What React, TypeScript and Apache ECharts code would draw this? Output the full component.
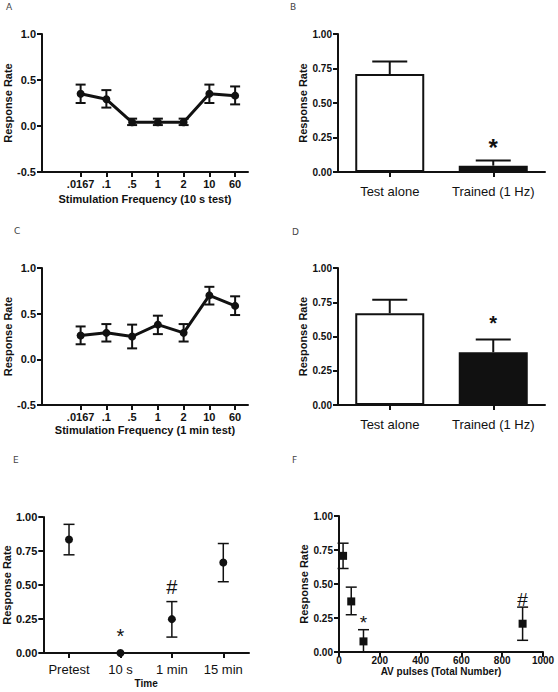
import React, { useEffect, useRef } from 'react';
import * as echarts from 'echarts';

// Panel A / C: stimulation frequency
const freqLabels = ['.0167', '.1', '.5', '1', '2', '10', '60'];
const freqPos = [1, 2, 3, 4, 5, 6, 7];
const aMean = [0.35, 0.29, 0.04, 0.04, 0.04, 0.35, 0.33];
const aLow = [0.25, 0.2, 0.01, 0.01, 0.01, 0.25, 0.235];
const aHigh = [0.45, 0.39, 0.08, 0.08, 0.08, 0.45, 0.43];
const cMean = [0.26, 0.29, 0.25, 0.38, 0.29, 0.7, 0.585];
const cLow = [0.165, 0.195, 0.12, 0.276, 0.195, 0.6, 0.485];
const cHigh = [0.36, 0.386, 0.38, 0.478, 0.386, 0.794, 0.69];

// Panel B / D: bars
const barCats = ['Test alone', 'Trained (1 Hz)'];
const bMean = [0.71, 0.046];
const bErr = [0.8, 0.083];
const dMean = [0.67, 0.385];
const dErr = [0.768, 0.478];

// Panel E: time
const timeCats = ['Pretest', '10 s', '1 min', '15 min'];
const eMean = [0.834, 0.0, 0.249, 0.666];
const eLow = [0.722, 0.0, 0.117, 0.524];
const eHigh = [0.946, 0.0, 0.378, 0.805];

// Panel F: AV pulses
const pulses = [20, 60, 120, 900];
const fMean = [0.707, 0.372, 0.078, 0.208];
const fLow = [0.614, 0.274, 0.0, 0.086];
const fHigh = [0.8, 0.477, 0.164, 0.33];

// Significance marks
const bMarkText = ['*'];
const bMarkX = [1];
const bMarkY = [0.18];
const dMarkText = ['*'];
const dMarkX = [1];
const dMarkY = [0.6];
const eMarkText = ['*', '#'];
const eMarkX = [1, 2];
const eMarkY = [0.125, 0.488];
const fMarkText = ['*', '#'];
const fMarkX = [120, 900];
const fMarkY = [0.215, 0.389];

const panelLetters = ['A', 'B', 'C', 'D', 'E', 'F'];

const FONT = "'Liberation Sans', Arial, sans-serif";
const INK = '#111111';

function errItem(capHalf: number, lw: number, lowCap: boolean) {
  return (params: any, api: any) => {
    const x = api.value(0);
    const lo = api.value(1);
    const hi = api.value(2);
    if (hi === lo) return null;
    const top = api.coord([x, hi]);
    const bot = api.coord([x, lo]);
    const style = { stroke: INK, lineWidth: lw };
    const children: any[] = [
      { type: 'line', shape: { x1: top[0], y1: top[1], x2: bot[0], y2: bot[1] }, style },
      { type: 'line', shape: { x1: top[0] - capHalf, y1: top[1], x2: top[0] + capHalf, y2: top[1] }, style },
    ];
    if (lowCap) {
      children.push({ type: 'line', shape: { x1: bot[0] - capHalf, y1: bot[1], x2: bot[0] + capHalf, y2: bot[1] }, style });
    }
    return { type: 'group', children };
  };
}

function markItem(texts: string[], size: number, weight: string) {
  return (params: any, api: any) => {
    const p = api.coord([api.value(0), api.value(1)]);
    return {
      type: 'text',
      x: p[0],
      y: p[1],
      style: {
        text: texts[params.dataIndex],
        fontSize: size,
        fontWeight: weight,
        fontFamily: FONT,
        fill: INK,
        align: 'center',
        verticalAlign: 'middle',
      },
    };
  };
}

const axisLine = { show: true, onZero: false, lineStyle: { color: INK, width: 2 } };
const axisTick = { show: true, length: 5, lineStyle: { color: INK, width: 2 } };

function yAxis(grid: number, min: number, interval: number, digits: number, fs: number, gap: number) {
  return {
    type: 'value',
    gridIndex: grid,
    min,
    max: 1,
    interval,
    axisLine,
    axisTick,
    splitLine: { show: false },
    axisLabel: {
      formatter: (v: number) => v.toFixed(digits),
      fontSize: fs,
      fontWeight: 'bold',
      fontFamily: FONT,
      color: INK,
      margin: 6,
    },
    name: 'Response Rate',
    nameLocation: 'middle',
    nameGap: gap,
    nameTextStyle: { fontSize: 11, fontWeight: 'bold', fontFamily: FONT, color: INK },
  };
}

function freqXAxis(grid: number, title: string, gap: number) {
  return {
    type: 'value',
    gridIndex: grid,
    min: -0.5,
    max: 7.5,
    axisLine,
    axisTick: { ...axisTick, customValues: freqPos },
    splitLine: { show: false },
    axisLabel: {
      customValues: freqPos,
      formatter: (v: number) => freqLabels[freqPos.indexOf(v)],
      fontSize: 11,
      fontWeight: 'bold',
      fontFamily: FONT,
      color: INK,
      margin: 6,
    },
    name: title,
    nameLocation: 'middle',
    nameGap: gap,
    nameTextStyle: { fontSize: 11, fontWeight: 'bold', fontFamily: FONT, color: INK },
  };
}

function catXAxis(grid: number, cats: string[], margin: number, title?: string, gap?: number) {
  return {
    type: 'category',
    gridIndex: grid,
    data: cats,
    axisLine,
    axisTick: { ...axisTick, alignWithLabel: true, interval: 0 },
    splitLine: { show: false },
    axisLabel: { interval: 0, fontSize: 13, fontFamily: FONT, color: INK, margin },
    name: title,
    nameLocation: 'middle',
    nameGap: gap,
    nameTextStyle: { fontSize: 10, fontWeight: 'bold', fontFamily: FONT, color: INK },
  };
}

function lineSeries(idx: number, mean: number[], low: number[], high: number[]) {
  return [
    {
      type: 'custom',
      xAxisIndex: idx,
      yAxisIndex: idx,
      renderItem: errItem(5, 2, true),
      data: freqPos.map((p, i) => [p, low[i], high[i]]),
      z: 2,
    },
    {
      type: 'line',
      xAxisIndex: idx,
      yAxisIndex: idx,
      data: freqPos.map((p, i) => [p, mean[i]]),
      symbol: 'circle',
      symbolSize: 8,
      lineStyle: { color: INK, width: 3 },
      itemStyle: { color: INK, opacity: 1 },
      z: 3,
    },
  ];
}

function barSeries(idx: number, mean: number[], err: number[], mx: number[], my: number[], mt: string[], ms: number) {
  return [
    {
      type: 'bar',
      xAxisIndex: idx,
      yAxisIndex: idx,
      barWidth: 69,
      data: mean.map((v, i) => ({
        value: v,
        itemStyle: {
          color: i === 0 ? '#ffffff' : INK,
          borderColor: INK,
          borderWidth: 2,
        },
      })),
      z: 2,
    },
    {
      type: 'custom',
      xAxisIndex: idx,
      yAxisIndex: idx,
      renderItem: errItem(17.5, 2, false),
      data: mean.map((v, i) => [i, v, err[i]]),
      z: 3,
    },
    {
      type: 'custom',
      xAxisIndex: idx,
      yAxisIndex: idx,
      renderItem: markItem(mt, ms, 'bold'),
      data: mx.map((x, i) => [x, my[i]]),
      z: 4,
    },
  ];
}

const letterPos = [
  [6, 2],
  [290, 2],
  [14, 226],
  [292, 227],
  [13, 455],
  [292, 455],
];

export default function App() {
  const ref = useRef<HTMLDivElement>(null);
  useEffect(() => {
    if (!ref.current) return;
    const chart = echarts.init(ref.current, null, { renderer: 'svg' });
    const option: any = {
      animation: false,
      backgroundColor: '#ffffff',
      grid: [
        { left: 42, top: 34, width: 206, height: 138 },
        { left: 338, top: 34, width: 207, height: 138 },
        { left: 42, top: 268, width: 206, height: 137 },
        { left: 338, top: 268, width: 207, height: 137 },
        { left: 42, top: 517, width: 207, height: 136 },
        { left: 339, top: 516, width: 204, height: 136 },
      ],
      xAxis: [
        freqXAxis(0, 'Stimulation Frequency (10 s test)', 21),
        catXAxis(1, barCats, 13),
        freqXAxis(2, 'Stimulation Frequency (1 min test)', 19),
        catXAxis(3, barCats, 13),
        catXAxis(4, timeCats, 10, 'Time', 25),
        {
          type: 'value',
          gridIndex: 5,
          min: 0,
          max: 1000,
          interval: 200,
          axisLine,
          axisTick,
          splitLine: { show: false },
          axisLabel: {
            formatter: (v: number) => String(v),
            fontSize: 10,
            fontWeight: 'bold',
            fontFamily: FONT,
            color: INK,
            margin: 3,
          },
          name: 'AV pulses (Total Number)',
          nameLocation: 'middle',
          nameGap: 14,
          nameTextStyle: { fontSize: 10, fontWeight: 'bold', fontFamily: FONT, color: INK },
        },
      ],
      yAxis: [
        yAxis(0, -0.5, 0.5, 1, 11, 27),
        yAxis(1, 0, 0.25, 2, 10, 30),
        yAxis(2, -0.5, 0.5, 1, 11, 27),
        yAxis(3, 0, 0.25, 2, 10, 30),
        yAxis(4, 0, 0.25, 2, 11, 28),
        yAxis(5, 0, 0.25, 2, 10, 30),
      ],
      series: [
        ...lineSeries(0, aMean, aLow, aHigh),
        ...barSeries(1, bMean, bErr, bMarkX, bMarkY, bMarkText, 24),
        ...lineSeries(2, cMean, cLow, cHigh),
        ...barSeries(3, dMean, dErr, dMarkX, dMarkY, dMarkText, 20),
        {
          type: 'custom',
          xAxisIndex: 4,
          yAxisIndex: 4,
          renderItem: errItem(5.5, 1.5, true),
          data: eMean.map((v, i) => [i, eLow[i], eHigh[i]]),
          z: 2,
        },
        {
          type: 'scatter',
          xAxisIndex: 4,
          yAxisIndex: 4,
          symbol: 'circle',
          symbolSize: 8,
          itemStyle: { color: INK, opacity: 1 },
          data: eMean.map((v, i) => [i, v]),
          z: 3,
        },
        {
          type: 'custom',
          xAxisIndex: 4,
          yAxisIndex: 4,
          renderItem: markItem(eMarkText, 20, 'normal'),
          data: eMarkX.map((x, i) => [x, eMarkY[i]]),
          z: 4,
        },
        {
          type: 'custom',
          xAxisIndex: 5,
          yAxisIndex: 5,
          renderItem: errItem(5.5, 1.5, true),
          data: pulses.map((p, i) => [p, fLow[i], fHigh[i]]),
          z: 2,
        },
        {
          type: 'scatter',
          xAxisIndex: 5,
          yAxisIndex: 5,
          symbol: 'rect',
          symbolSize: 8,
          itemStyle: { color: INK, opacity: 1 },
          data: pulses.map((p, i) => [p, fMean[i]]),
          z: 3,
        },
        {
          type: 'custom',
          xAxisIndex: 5,
          yAxisIndex: 5,
          renderItem: markItem(fMarkText, 19, 'normal'),
          data: fMarkX.map((x, i) => [x, fMarkY[i]]),
          z: 4,
        },
      ],
      graphic: panelLetters.map((t, i) => ({
        type: 'text',
        left: letterPos[i][0],
        top: letterPos[i][1],
        style: { text: t, fontSize: 9, fontFamily: "'DejaVu Sans', sans-serif", fill: '#444' },
      })),
    };
    chart.setOption(option);
    return () => chart.dispose();
  }, []);
  return (
    <div
      ref={ref}
      style={{ position: 'absolute', left: 0, top: 0, width: 558, height: 692, background: '#fff' }}
    />
  );
}
